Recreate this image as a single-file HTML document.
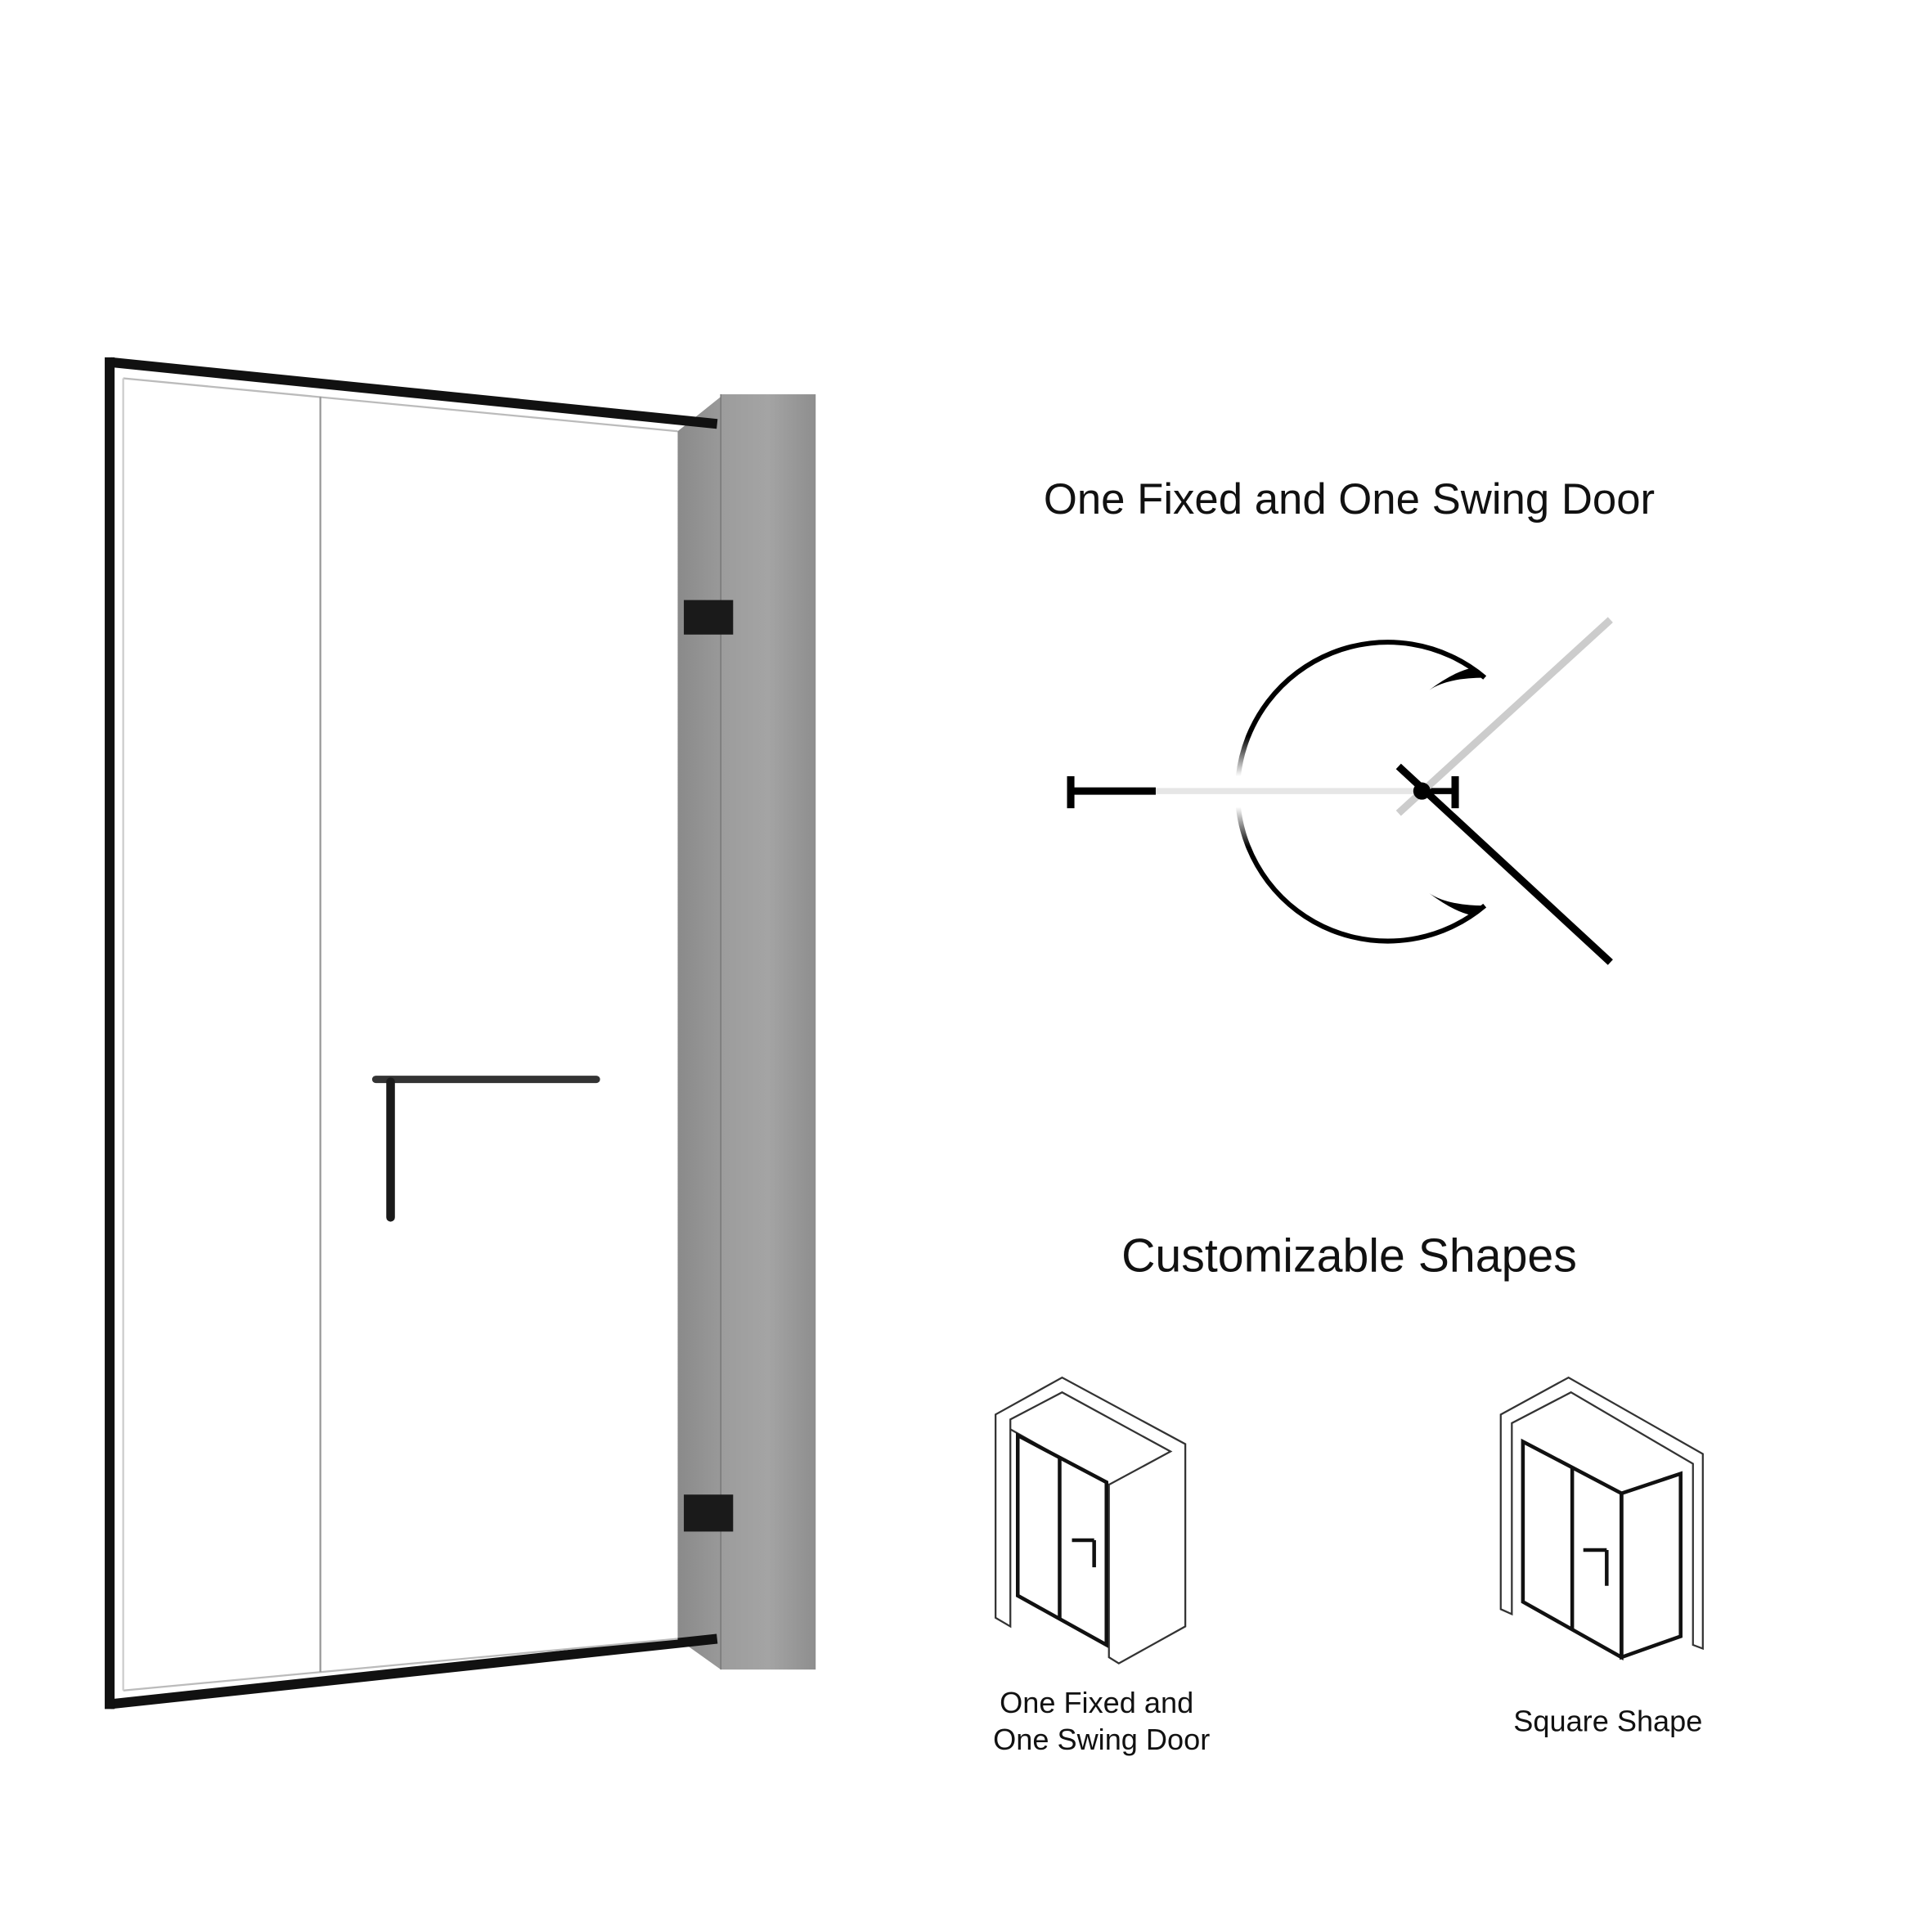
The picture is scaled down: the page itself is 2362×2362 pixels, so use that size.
<!DOCTYPE html>
<html><head><meta charset="utf-8"><style>
html,body{margin:0;padding:0;background:#fff;}
svg{display:block;}
text{font-family:"Liberation Sans","DejaVu Sans",sans-serif;fill:#111;}
</style></head><body>
<svg width="2362" height="2362" viewBox="0 0 1568 1568" xmlns="http://www.w3.org/2000/svg">
<defs>
<linearGradient id="wallA" x1="0" x2="1"><stop offset="0" stop-color="#8a8a8a"/><stop offset="1" stop-color="#999"/></linearGradient>
<linearGradient id="wallB" x1="0" x2="1"><stop offset="0" stop-color="#9c9c9c"/><stop offset="0.5" stop-color="#a4a4a4"/><stop offset="1" stop-color="#8e8e8e"/></linearGradient>
<linearGradient id="arcTop" x1="0" y1="0" x2="0" y2="1"><stop offset="0" stop-color="#000"/><stop offset="0.7" stop-color="#000"/><stop offset="1" stop-color="#fff"/></linearGradient>
<linearGradient id="arcBot" x1="0" y1="1" x2="0" y2="0"><stop offset="0" stop-color="#000"/><stop offset="0.7" stop-color="#000"/><stop offset="1" stop-color="#fff"/></linearGradient>
</defs>
<rect width="1568" height="1568" fill="#fff"/>
<polygon points="550,350 585,322 585,1355 550,1330" fill="url(#wallA)"/>
<rect x="585" y="320" width="77" height="1035" fill="url(#wallB)"/>
<line x1="585" y1="320" x2="585" y2="1355" stroke="#777" stroke-width="1"/>
<line x1="90" y1="294" x2="582" y2="344" stroke="#111" stroke-width="8"/>
<line x1="90" y1="1383" x2="582" y2="1330" stroke="#111" stroke-width="8"/>
<line x1="89" y1="290" x2="89" y2="1387" stroke="#111" stroke-width="8"/>
<line x1="100" y1="307" x2="550" y2="350" stroke="#bbb" stroke-width="1.5"/>
<line x1="100" y1="1372" x2="550" y2="1330" stroke="#bbb" stroke-width="1.5"/>
<line x1="100" y1="307" x2="100" y2="1372" stroke="#ccc" stroke-width="1.5"/>
<line x1="260" y1="322" x2="260" y2="1357" stroke="#999" stroke-width="1.5"/>
<rect x="555" y="487" width="40" height="28" fill="#1a1a1a"/>
<rect x="555" y="1213" width="40" height="30" fill="#1a1a1a"/>
<line x1="305" y1="876" x2="484" y2="876" stroke="#333" stroke-width="6" stroke-linecap="round"/>
<line x1="317" y1="878" x2="317" y2="988" stroke="#1a1a1a" stroke-width="7" stroke-linecap="round"/>
<text x="1095" y="417" font-size="35" text-anchor="middle">One Fixed and One Swing Door</text>
<line x1="869" y1="630" x2="869" y2="656" stroke="#000" stroke-width="6"/>
<line x1="869" y1="642" x2="938" y2="642" stroke="#000" stroke-width="6"/>
<line x1="938" y1="642" x2="1155" y2="642" stroke="#e6e6e6" stroke-width="5"/>
<line x1="1181" y1="630" x2="1181" y2="656" stroke="#000" stroke-width="6"/>
<line x1="1160" y1="642" x2="1181" y2="642" stroke="#000" stroke-width="5"/>
<line x1="1135" y1="660" x2="1307" y2="503" stroke="#ccc" stroke-width="6"/>
<line x1="1135" y1="622" x2="1307" y2="781" stroke="#000" stroke-width="6"/>
<circle cx="1154" cy="642" r="7" fill="#000"/>
<path d="M1005,630 A122,122 0 0 1 1205,550" fill="none" stroke="url(#arcTop)" stroke-width="4"/>
<path d="M1005,655 A122,122 0 0 0 1205,735" fill="none" stroke="url(#arcBot)" stroke-width="4"/>
<path d="M1205,550 Q1175,550 1160,560 Q1180,545 1195,542 Z" fill="#000"/>
<path d="M1205,735 Q1175,735 1160,725 Q1180,740 1195,743 Z" fill="#000"/>
<text x="1095" y="1032" font-size="38" text-anchor="middle">Customizable Shapes</text>
<g fill="none" stroke="#333" stroke-width="1.5">
<polygon points="808,1148 862,1118 962,1172 962,1320 908,1350 900,1345 900,1205 950,1178 862,1130 820,1152 820,1320 808,1313"/>
<line x1="820" y1="1160" x2="900" y2="1205"/>
</g>
<g fill="none" stroke="#111" stroke-width="3">
<polygon points="826,1165 898,1203 898,1335 826,1295"/>
<line x1="860" y1="1183" x2="860" y2="1314"/>
<line x1="870" y1="1250" x2="888" y2="1250"/><line x1="888" y1="1250" x2="888" y2="1272"/>
</g>
<g fill="none" stroke="#333" stroke-width="1.5">
<polygon points="1218,1148 1273,1118 1382,1180 1382,1338 1374,1335 1374,1188 1275,1130 1227,1155 1227,1310 1218,1306"/>
</g>
<g fill="none" stroke="#111" stroke-width="3">
<polygon points="1236,1170 1316,1212 1316,1345 1236,1300"/>
<polygon points="1316,1212 1364,1196 1364,1328 1316,1345"/>
<line x1="1276" y1="1190" x2="1276" y2="1322"/>
<line x1="1285" y1="1258" x2="1304" y2="1258"/><line x1="1304" y1="1258" x2="1304" y2="1287"/>
</g>
<text x="890" y="1390" font-size="24" text-anchor="middle">One Fixed and</text>
<text x="894" y="1420" font-size="24" text-anchor="middle">One Swing Door</text>
<text x="1305" y="1405" font-size="24" text-anchor="middle">Square Shape</text>
</svg>
</body></html>
